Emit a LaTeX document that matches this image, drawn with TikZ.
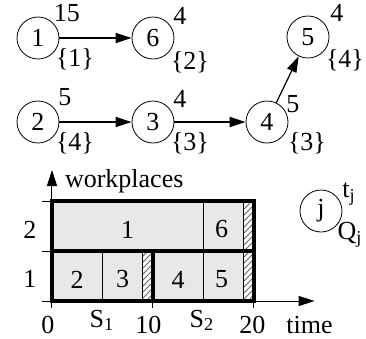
\documentclass[tikz,border=0pt]{standalone}
\usepackage{fontspec}
\setmainfont{Liberation Serif}
\usetikzlibrary{arrows.meta,patterns}
\tikzset{
  job/.style={draw, circle, minimum size=21pt, inner sep=0pt},
  num/.style={inner sep=0pt},
  arc/.style={-{Triangle[length=8pt,width=5pt]}, line width=1pt},
  axis/.style={-{Triangle[length=8pt,width=5pt]}, line width=0.5pt},
  tick/.style={line width=0.5pt},
  cell/.style={fill=gray!18},
  idle/.style={pattern=north east lines, pattern color=gray!80!black},
  thinline/.style={line width=0.5pt},
  border/.style={line width=1.6pt}
}

\begin{document}
\begin{tikzpicture}[x=0.5pt, y=-0.5pt, font=\fontsize{13}{15}\selectfont]
\useasboundingbox (0,0) rectangle (366,339);

% precedence graph
\node[job] (j1) at (38,38) {1};
\node[job] (j6) at (153,38) {6};
\node[job] (j5) at (308,37) {5};
\node[job] (j2) at (38,122) {2};
\node[job] (j3) at (153,122) {3};
\node[job] (j4) at (267,122) {4};

\node[num] (t1) at (67,13) {15};
\node[num] (t6) at (180,16) {4};
\node[num] (t5) at (337,13) {4};
\node[num] (t2) at (65,97) {5};
\node[num] (t3) at (180,99) {4};
\node[num] (t4) at (293,104) {5};

\node[num] (q1) at (75,59) {\{1\}};
\node[num] (q6) at (190,62) {\{2\}};
\node[num] (q5) at (345,60) {\{4\}};
\node[num] (q2) at (75,143) {\{4\}};
\node[num] (q3) at (190,143) {\{3\}};
\node[num] (q4) at (307,143) {\{3\}};

\draw[arc] (j1) -- (j6);
\draw[arc] (j2) -- (j3);
\draw[arc] (j3) -- (j4);
\draw[arc, line width=0.6pt] (j4) -- (j5);

% legend
\node[job] (leg) at (321,211) {j};
\node[num] (legt) at (349,194) {t\textsubscript{j}};
\node[num] (legq) at (350,235) {Q\textsubscript{j}};

% schedule
\begin{scope}[shift={(52,301)}, x=5.05pt, y=25pt]
\fill[cell] (0,0) rectangle (9,1);
\fill[cell] (10,0) rectangle (19,1);
\fill[cell] (0,1) rectangle (19,2);
\fill[idle] (9,0) rectangle (10,1);
\fill[idle] (19,0) rectangle (20,2);

\draw[thinline] (5,0) -- (5,1);
\draw[thinline] (9,0) -- (9,1);
\draw[thinline] (15,0) -- (15,2);
\draw[thinline] (19,0) -- (19,2);

\draw[axis] (-1,0) -- (26,0);
\draw[axis] (0,-0.14) -- (0,2.62);
\draw[tick] (-1,1) -- (0,1);
\draw[tick] (-1,2) -- (0,2);
\draw[tick] (10,0) -- (10,-0.14);
\draw[tick] (20,0) -- (20,-0.14);

\draw[border] (0,0) rectangle (20,2);
\draw[border] (0,1) -- (20,1);
\draw[border] (10,0) -- (10,1);

\node (b1) at (7.5,1.43) {1};
\node (b6) at (16.8,1.43) {6};
\node (b2) at (2.5,0.43) {2};
\node (b3) at (7,0.43) {3};
\node (b4) at (12.5,0.43) {4};
\node (b5) at (16.8,0.43) {5};

\node (row2) at (-2.2,1.42) {2};
\node (row1) at (-2.2,0.45) {1};
\node[anchor=base west, inner sep=0pt] (ylab) at (1.25,2.28) {workplaces};

\node[anchor=base, inner sep=0pt] (x0) at (-0.4,-0.64) {0};
\node[anchor=base, inner sep=0pt] (s1) at (4.95,-0.52) {S\textsubscript{1}};
\node[anchor=base, inner sep=0pt] (x10) at (9.55,-0.64) {10};
\node[anchor=base, inner sep=0pt] (s2) at (14.85,-0.52) {S\textsubscript{2}};
\node[anchor=base, inner sep=0pt] (x20) at (19.85,-0.64) {20};
\node[anchor=base, inner sep=0pt] (xlab) at (25.5,-0.64) {time};
\end{scope}
\end{tikzpicture}
\end{document}
